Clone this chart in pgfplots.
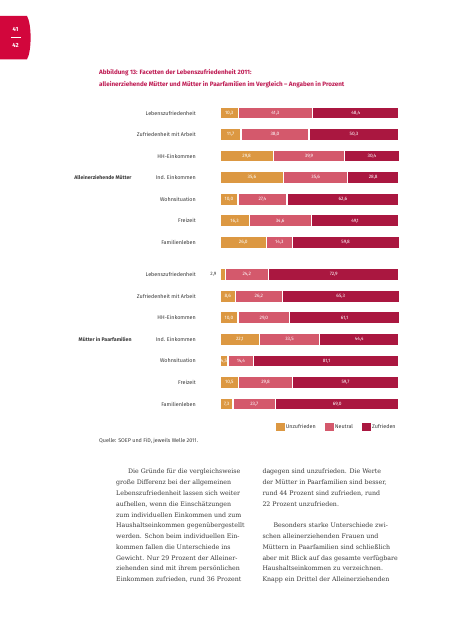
\documentclass[border=0pt]{standalone}
\usepackage{pgfplots}
\pgfplotsset{compat=1.18}
\usepackage{pgfplotstable}
\usepackage{fontspec}
\setmainfont{Fira Sans}
\newfontfamily\bodyfont{DejaVu Serif}
\definecolor{cU}{HTML}{DC9842}
\definecolor{cN}{HTML}{D4596C}
\definecolor{cZ}{HTML}{AA1740}
\definecolor{tabred}{HTML}{D2063C}
\definecolor{ttl}{HTML}{BE1A52}
\definecolor{txtc}{HTML}{3A3A3A}

% row position, Unzufrieden, Neutral, Zufrieden (values in percent)
\pgfplotstableread{
row  u    n    z
1    10.3 41.3 48.4
2    11.7 38.0 50.3
3    29.8 39.9 30.4
4    35.6 35.6 28.8
5    10.0 27.4 62.6
6    16.3 34.6 49.1
7    26.0 14.3 59.8
8.5  2.9  24.2 72.9
9.5  8.6  26.2 65.3
10.5 10.0 29.0 61.1
11.5 22.1 33.5 44.4
12.5 4.5  14.4 81.1
13.5 10.5 29.8 59.7
14.5 7.3  23.7 69.0
}\datatable

\pgfplotsset{
  frame/.style={
    at={(220pt,537.8pt)}, anchor=north west,
    scale only axis, width=179pt, height=312.6pt,
    xmin=0, xmax=100, ymin=0.5, ymax=15, y dir=reverse, clip=false,
  },
  vlab/.style={only marks, mark=*, mark size=0pt, mark options={draw=none, fill=none},
    nodes near coords, point meta=explicit,
    every node near coord/.append style={anchor=center, text=white,
      font=\fontsize{4.8}{5}\selectfont, inner sep=0pt}},
}

\begin{document}
\begin{tikzpicture}[x=1pt,y=1pt]
\fill[white] (0,0) rectangle (453,640);

% page tab
\fill[tabred] (0,624) -- (27,624) .. controls (31.8,616) and (31.8,588.7) .. (27,580.7) -- (0,580.7) -- cycle;
\node[text=white, font=\bfseries\fontsize{6}{7}\selectfont, inner sep=0] at (15.5,611) {41};
\node[text=white, font=\bfseries\fontsize{6}{7}\selectfont, inner sep=0] at (15.5,594.7) {42};
\draw[white, line width=0.5pt] (11.3,602.7) -- (20.7,602.7);

% title
\node[anchor=base west, inner sep=0, text=ttl, font=\bfseries\fontsize{6.3}{7}\selectfont] at (99,565.5) {Abbildung 13: Facetten der Lebenszufriedenheit 2011:};
\node[anchor=base west, inner sep=0, text=ttl, font=\bfseries\fontsize{6.3}{7}\selectfont] at (99,553.5) {alleinerziehende Mütter und Mütter in Paarfamilien im Vergleich – Angaben in Prozent};

\begin{axis}[
  frame,
  xbar stacked, bar width=11.9pt,
  axis line style={draw=none}, tick style={draw=none},
  xtick=\empty,
  ytick={1,2,3,4,5,6,7,8.5,9.5,10.5,11.5,12.5,13.5,14.5},
  yticklabels={Lebenszufriedenheit, Zufriedenheit mit Arbeit, HH-Einkommen, Ind. Einkommen, Wohnsituation, Freizeit, Familienleben,
               Lebenszufriedenheit, Zufriedenheit mit Arbeit, HH-Einkommen, Ind. Einkommen, Wohnsituation, Freizeit, Familienleben},
  yticklabel style={font=\fontsize{5.4}{6}\selectfont, text=txtc, inner sep=0pt, xshift=-24pt},
  legend columns=3,
  legend style={draw=none, fill=none, at={(axis description cs:0.989,-0.039)}, anchor=east,
    font=\fontsize{5.4}{6}\selectfont, text=txtc, inner sep=0pt,
    /tikz/every even column/.append style={column sep=8pt}, nodes={inner sep=1.2pt}},
  legend image code/.code={\fill[#1, draw=none] (0pt,-4.3pt) rectangle (8.7pt,4.3pt);},
]
\addplot[forget plot, fill=cU, draw=white, line width=1.2pt] table[x=u, y=row]{\datatable};
\addplot[forget plot, fill=cN, draw=white, line width=1.2pt] table[x=n, y=row]{\datatable};
\addplot[forget plot, fill=cZ, draw=white, line width=1.2pt] table[x=z, y=row]{\datatable};
\addlegendimage{fill=cU}\addlegendentry{Unzufrieden}
\addlegendimage{fill=cN}\addlegendentry{Neutral}
\addlegendimage{fill=cZ}\addlegendentry{Zufrieden}
\end{axis}

% value labels (same frame, not stacked)
\begin{axis}[
  frame, hide axis,
  /pgf/number format/use comma, /pgf/number format/fixed, /pgf/number format/fixed zerofill,
  /pgf/number format/precision=1, /pgf/number format/assume math mode=true,
]
\addplot[vlab, restrict expr to domain={\thisrow{u}}{3:100}]
  table[x expr=\thisrow{u}/2, y=row, meta=u]{\datatable};
\addplot[vlab, every node near coord/.append style={anchor=east, text=txtc, xshift=-3.5pt}, restrict expr to domain={\thisrow{u}}{0:3}]
  table[x expr=0, y=row, meta=u]{\datatable};
\addplot[vlab]
  table[x expr=\thisrow{u}+\thisrow{n}/2, y=row, meta=n]{\datatable};
\addplot[vlab]
  table[x expr=\thisrow{u}+\thisrow{n}+\thisrow{z}/2, y=row, meta=z]{\datatable};
\end{axis}

% group labels
\node[anchor=east, inner sep=0, text=txtc, font=\bfseries\fontsize{5.2}{6}\selectfont] at (131.7,462.3) {Alleinerziehende Mütter};
\node[anchor=east, inner sep=0, text=txtc, font=\bfseries\fontsize{5.2}{6}\selectfont] at (131.7,300.6) {Mütter in Paarfamilien};

% source
\node[anchor=base west, inner sep=0, text=txtc, font=\fontsize{5.4}{6}\selectfont] at (99,197.5) {Quelle: SOEP und FiD, jeweils Welle 2011.};

% body text
\foreach \t [count=\i from 0] in {
  {\hspace{12pt}Die Gründe für die vergleichsweise},
  {große Differenz bei der allgemeinen},
  {Lebenszufriedenheit lassen sich weiter},
  {aufhellen, wenn die Einschätzungen},
  {zum individuellen Einkommen und zum},
  {Haushaltseinkommen gegenübergestellt},
  {werden. Schon beim individuellen Ein-},
  {kommen fallen die Unterschiede ins},
  {Gewicht. Nur 29 Prozent der Alleiner-},
  {ziehenden sind mit ihrem persönlichen},
  {Einkommen zufrieden, rund 36 Prozent}} {
  \node[anchor=base west, inner sep=0, text=txtc, font=\bodyfont\fontsize{6.25}{8}\selectfont] at (116,166-10.77*\i) {\t};
}
\foreach \t [count=\i from 0] in {
  {dagegen sind unzufrieden. Die Werte},
  {der Mütter in Paarfamilien sind besser,},
  {rund 44 Prozent sind zufrieden, rund},
  {22 Prozent unzufrieden.},
  {},
  {\hspace{11pt}Besonders starke Unterschiede zwi-},
  {schen alleinerziehenden Frauen und},
  {Müttern in Paarfamilien sind schließlich},
  {aber mit Blick auf das gesamte verfügbare},
  {Haushaltseinkommen zu verzeichnen.},
  {Knapp ein Drittel der Alleinerziehenden}} {
  \node[anchor=base west, inner sep=0, text=txtc, font=\bodyfont\fontsize{6.25}{8}\selectfont] at (262.3,166-10.77*\i) {\t};
}
\end{tikzpicture}
\end{document}
